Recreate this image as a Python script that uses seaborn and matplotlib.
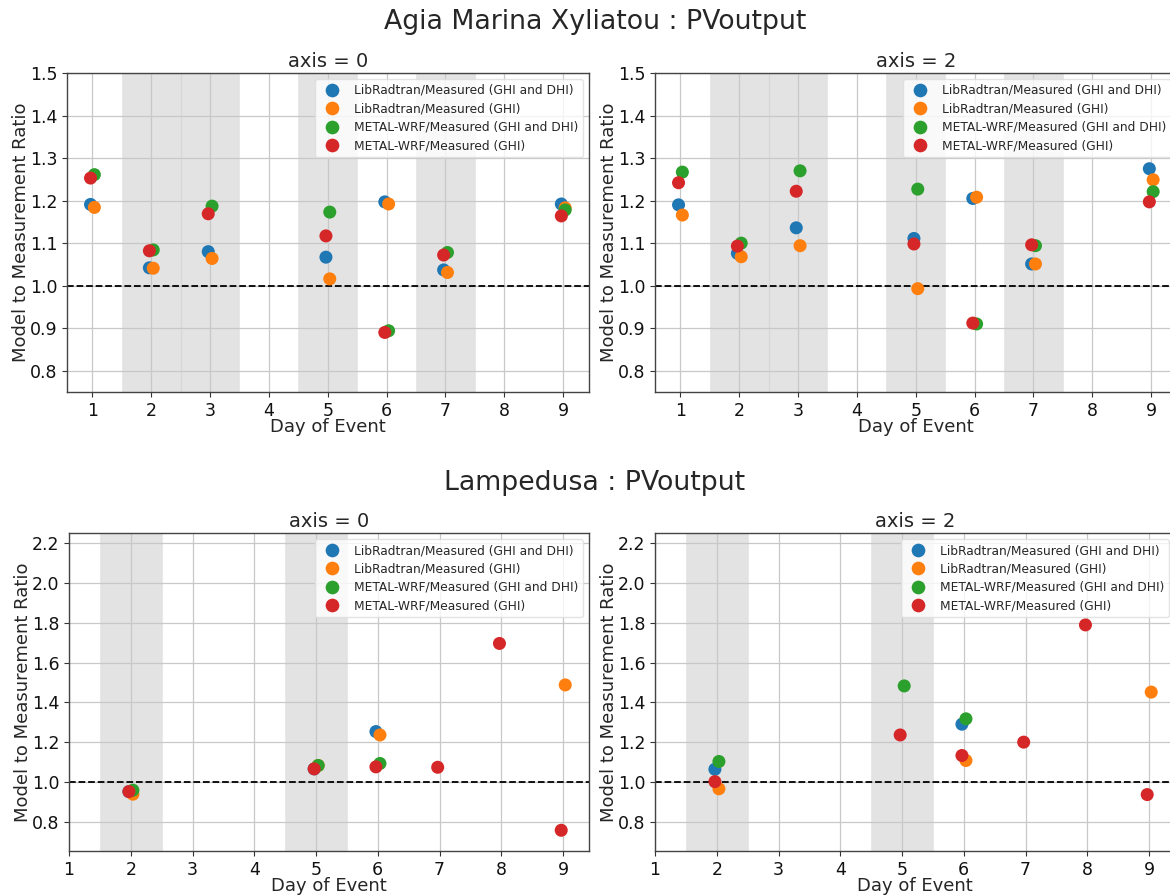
import numpy as np
import pandas as pd
import matplotlib
matplotlib.use("Agg")
import matplotlib.pyplot as plt
import seaborn as sns

# ---------------- data ----------------
series_names = [
    "LibRadtran/Measured (GHI and DHI)",
    "LibRadtran/Measured (GHI)",
    "METAL-WRF/Measured (GHI and DHI)",
    "METAL-WRF/Measured (GHI)",
]

days_agia = [1, 2, 3, 5, 6, 7, 9]
agia_axis0_lib_ghi_dhi = [1.191, 1.042, 1.080, 1.067, 1.197, 1.037, 1.192]
agia_axis0_lib_ghi     = [1.184, 1.041, 1.064, 1.016, 1.192, 1.031, 1.183]
agia_axis0_wrf_ghi_dhi = [1.261, 1.084, 1.187, 1.173, 0.894, 1.078, 1.178]
agia_axis0_wrf_ghi     = [1.253, 1.082, 1.169, 1.117, 0.890, 1.072, 1.164]

agia_axis2_lib_ghi_dhi = [1.190, 1.076, 1.136, 1.111, 1.205, 1.051, 1.275]
agia_axis2_lib_ghi     = [1.166, 1.068, 1.094, 0.993, 1.208, 1.051, 1.249]
agia_axis2_wrf_ghi_dhi = [1.267, 1.100, 1.270, 1.227, 0.910, 1.094, 1.221]
agia_axis2_wrf_ghi     = [1.242, 1.093, 1.222, 1.098, 0.912, 1.096, 1.197]

days_lamp = [2, 5, 6, 7, 8, 9]
nan = np.nan
lamp_axis0_lib_ghi_dhi = [0.953, 1.067, 1.254, nan, nan, nan]
lamp_axis0_lib_ghi     = [0.940, 1.084, 1.237, nan, nan, 1.488]
lamp_axis0_wrf_ghi_dhi = [0.960, 1.084, 1.094, nan, nan, nan]
lamp_axis0_wrf_ghi     = [0.953, 1.067, 1.077, 1.075, 1.696, 0.759]

lamp_axis2_lib_ghi_dhi = [1.065, nan, 1.291, nan, nan, nan]
lamp_axis2_lib_ghi     = [0.967, nan, 1.109, nan, nan, 1.452]
lamp_axis2_wrf_ghi_dhi = [1.104, 1.483, 1.318, nan, nan, nan]
lamp_axis2_wrf_ghi     = [1.003, 1.237, 1.134, 1.201, 1.789, 0.938]

site_titles = ["Agia Marina Xyliatou : PVoutput", "Lampedusa : PVoutput"]
panel_titles = ["axis = 0", "axis = 2"]
x_ticks = [1, 2, 3, 4, 5, 6, 7, 8, 9]
y_ticks_agia = [0.8, 0.9, 1.0, 1.1, 1.2, 1.3, 1.4, 1.5]
y_ticks_lamp = [0.8, 1.0, 1.2, 1.4, 1.6, 1.8, 2.0, 2.2]
spans_agia = [(1.5, 2.5), (2.5, 3.5), (4.5, 5.5), (6.5, 7.5)]
spans_lamp = [(1.5, 2.5), (4.5, 5.5)]

# ---------------- style ----------------
sns.set_style("white")
plt.rcParams["font.family"] = ["DejaVu Sans"]
palette = ["#1f77b4", "#ff7f0e", "#2ca02c", "#d62728"]
x_shift = {series_names[0]: -0.03, series_names[1]: 0.035,
           series_names[2]: 0.035, series_names[3]: -0.03}


def make_df(days, cols):
    rows = []
    for name, vals in zip(series_names, cols):
        for d, v in zip(days, vals):
            rows.append({"day": d, "xpos": d + x_shift[name], "value": v, "series": name})
    return pd.DataFrame(rows).dropna()


panels = [
    (make_df(days_agia, [agia_axis0_lib_ghi_dhi, agia_axis0_lib_ghi, agia_axis0_wrf_ghi_dhi, agia_axis0_wrf_ghi]), 0, 0),
    (make_df(days_agia, [agia_axis2_lib_ghi_dhi, agia_axis2_lib_ghi, agia_axis2_wrf_ghi_dhi, agia_axis2_wrf_ghi]), 0, 1),
    (make_df(days_lamp, [lamp_axis0_lib_ghi_dhi, lamp_axis0_lib_ghi, lamp_axis0_wrf_ghi_dhi, lamp_axis0_wrf_ghi]), 1, 0),
    (make_df(days_lamp, [lamp_axis2_lib_ghi_dhi, lamp_axis2_lib_ghi, lamp_axis2_wrf_ghi_dhi, lamp_axis2_wrf_ghi]), 1, 1),
]

W, H = 1170, 896
fig = plt.figure(figsize=(W / 100, H / 100), dpi=100)

rects = {
    (0, 0): [67 / W, 1 - 392 / H, 522 / W, 319 / H],
    (0, 1): [655 / W, 1 - 392 / H, 522 / W, 319 / H],
    (1, 0): [69 / W, 1 - 851 / H, 520 / W, 318 / H],
    (1, 1): [655 / W, 1 - 851 / H, 520 / W, 318 / H],
}

for df, row, col in panels:
    ax = fig.add_axes(rects[(row, col)])
    spans = spans_agia if row == 0 else spans_lamp
    for a, b in spans:
        ax.axvspan(a, b, facecolor="gray", alpha=0.22, edgecolor="#c9c9c9",
                   lw=0.8, zorder=0)
    ax.grid(True, color="#c8c8c8", lw=0.9, zorder=0.5)
    ax.set_axisbelow(True)
    sns.scatterplot(data=df, x="xpos", y="value", hue="series",
                    hue_order=series_names, palette=palette,
                    s=88, linewidth=0, ax=ax, zorder=3)
    ax.axhline(1.0, color="black", ls="--", lw=1.3, zorder=2)
    ax.set_xticks(x_ticks)
    if row == 0:
        ax.set_yticks(y_ticks_agia)
        ax.set_ylim(0.75, 1.5)
        ax.set_xlim(0.57, 9.44)
    else:
        ax.set_yticks(y_ticks_lamp)
        ax.set_ylim(0.655, 2.25)
        ax.set_xlim(1.0, 9.42)
    ax.set_yticklabels([f"{t:.1f}" for t in ax.get_yticks()])
    ax.tick_params(axis="both", labelsize=12.5, length=3.5, width=0.8,
                   color="#333333", labelcolor="#111111", bottom=True, left=True)
    ax.set_xlabel("Day of Event", fontsize=13, labelpad=-1)
    ax.set_ylabel("Model to Measurement Ratio", fontsize=13, labelpad=0)
    ax.set_title(panel_titles[col], fontsize=14, pad=4)
    for sp in ax.spines.values():
        sp.set_color("#444444")
        sp.set_linewidth(1.0)
    leg = ax.legend(loc="upper right", fontsize=8.8, frameon=True,
                    borderpad=0.4, labelspacing=0.45, handlelength=2.0,
                    handletextpad=0.8, markerscale=1.05)
    leg.get_frame().set_edgecolor("#dddddd")
    leg.get_frame().set_alpha(0.8)

fig.text(595 / W, 1 - 22 / H, site_titles[0], ha="center", va="center", fontsize=19.3)
fig.text(595 / W, 1 - 483 / H, site_titles[1], ha="center", va="center", fontsize=19.3)

fig.savefig("out.png", dpi=100)
